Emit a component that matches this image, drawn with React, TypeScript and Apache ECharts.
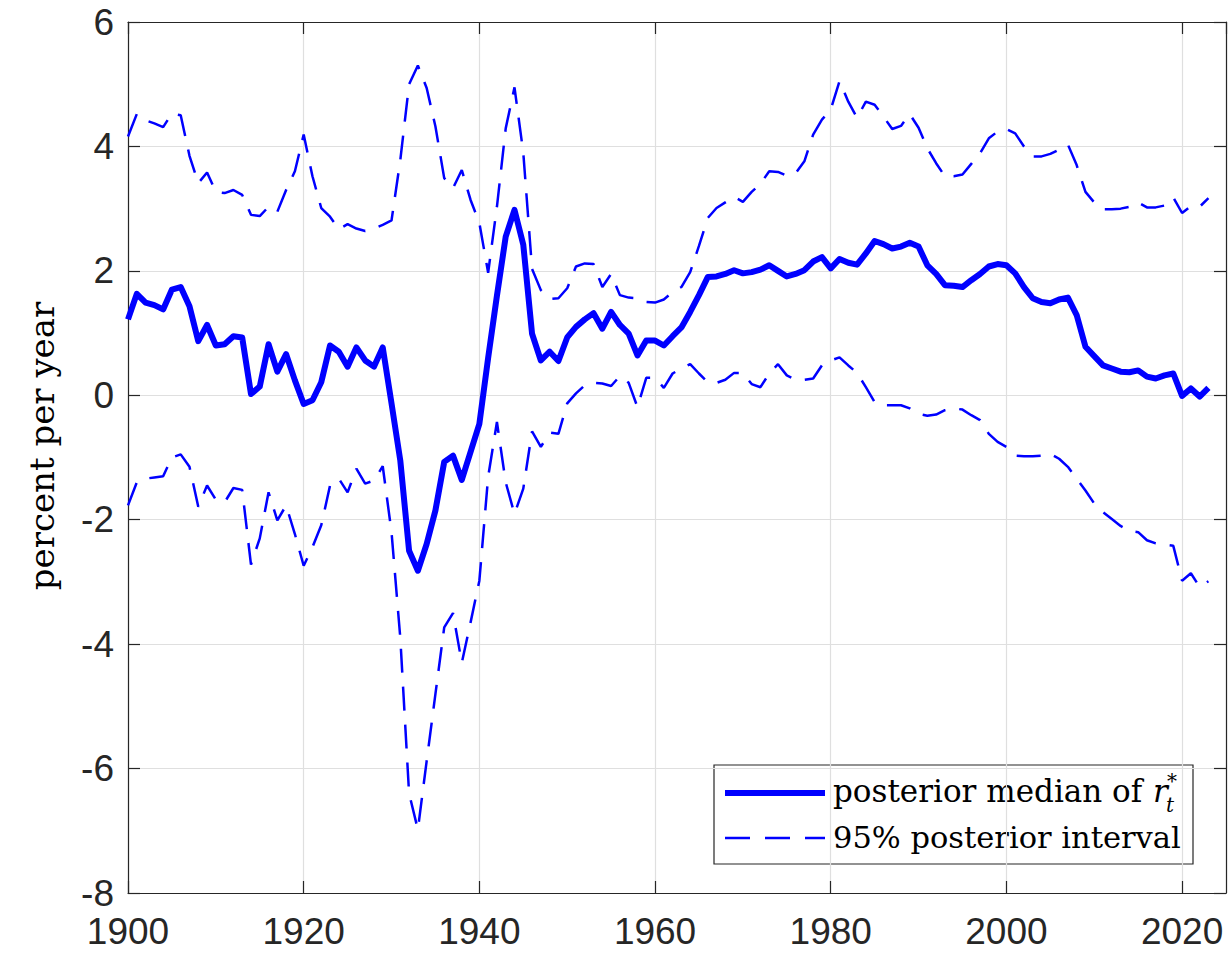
import React, { useEffect, useRef } from "react";
import * as echarts from "echarts";

const years: number[] = [];
for (let y = 1900; y <= 2023; y++) years.push(y);

const median: number[] = [
  1.22, 1.63, 1.49, 1.45, 1.38, 1.70, 1.74, 1.43, 0.87, 1.13,
  0.80, 0.82, 0.95, 0.93, 0.02, 0.14, 0.82, 0.38, 0.66, 0.24,
  -0.14, -0.08, 0.21, 0.80, 0.70, 0.46, 0.77, 0.56, 0.46, 0.77,
  -0.13, -1.05, -2.50, -2.82, -2.39, -1.85, -1.07, -0.97, -1.36, -0.91,
  -0.46, 0.60, 1.60, 2.55, 2.98, 2.42, 0.99, 0.56, 0.70, 0.55,
  0.93, 1.10, 1.22, 1.32, 1.07, 1.34, 1.13, 0.99, 0.64, 0.88,
  0.88, 0.80, 0.95, 1.09, 1.34, 1.61, 1.90, 1.91, 1.95, 2.01,
  1.96, 1.98, 2.02, 2.09, 2.00, 1.91, 1.95, 2.01, 2.15, 2.22,
  2.04, 2.19, 2.13, 2.10, 2.28, 2.48, 2.43, 2.36, 2.39, 2.45,
  2.39, 2.09, 1.95, 1.77, 1.76, 1.74, 1.85, 1.95, 2.07, 2.11,
  2.09, 1.96, 1.74, 1.56, 1.50, 1.48, 1.54, 1.57, 1.29, 0.78,
  0.63, 0.48, 0.43, 0.38, 0.37, 0.40, 0.30, 0.27, 0.32, 0.35,
  -0.01, 0.11, -0.02, 0.12,
];

const upper: number[] = [
  4.16, 4.52, 4.42, 4.37, 4.31, 4.53, 4.50, 3.85, 3.41, 3.58,
  3.27, 3.25, 3.30, 3.22, 2.90, 2.88, 3.03, 2.95, 3.30, 3.60,
  4.19, 3.52, 3.01, 2.87, 2.67, 2.75, 2.68, 2.64, 2.68, 2.74,
  2.81, 3.78, 5.00, 5.30, 4.94, 4.32, 3.49, 3.33, 3.62, 3.14,
  2.77, 1.97, 3.03, 4.29, 4.95, 3.90, 2.03, 1.69, 1.55, 1.56,
  1.72, 2.07, 2.12, 2.11, 1.74, 1.95, 1.61, 1.57, 1.56, 1.50,
  1.49, 1.54, 1.66, 1.74, 1.98, 2.40, 2.85, 3.01, 3.10, 3.19,
  3.11, 3.27, 3.40, 3.60, 3.59, 3.53, 3.57, 3.76, 4.19, 4.43,
  4.59, 5.05, 4.72, 4.46, 4.72, 4.67, 4.48, 4.28, 4.33, 4.52,
  4.30, 3.97, 3.73, 3.52, 3.52, 3.55, 3.72, 3.89, 4.13, 4.24,
  4.28, 4.21, 4.00, 3.84, 3.84, 3.88, 3.95, 4.03, 3.70, 3.27,
  3.10, 2.99, 2.99, 3.00, 3.03, 3.10, 3.02, 3.02, 3.05, 3.18,
  2.93, 3.04, 3.03, 3.17,
];

const lower: number[] = [
  -1.77, -1.40, -1.34, -1.32, -1.30, -1.00, -0.95, -1.15, -1.79, -1.45,
  -1.68, -1.72, -1.49, -1.52, -2.72, -2.30, -1.56, -2.01, -1.77, -2.23,
  -2.74, -2.44, -2.09, -1.45, -1.34, -1.56, -1.18, -1.42, -1.37, -1.14,
  -2.20, -3.90, -6.40, -6.98, -5.88, -4.80, -3.73, -3.50, -4.30, -3.65,
  -2.98, -1.31, -0.43, -1.40, -1.91, -1.50, -0.58, -0.83, -0.60, -0.62,
  -0.13, 0.03, 0.16, 0.20, 0.19, 0.15, 0.31, 0.20, -0.19, 0.28,
  0.28, 0.12, 0.35, 0.43, 0.50, 0.35, 0.21, 0.20, 0.25, 0.36,
  0.36, 0.18, 0.13, 0.35, 0.50, 0.32, 0.25, 0.25, 0.27, 0.48,
  0.56, 0.61, 0.48, 0.36, 0.13, -0.11, -0.16, -0.16, -0.16, -0.21,
  -0.30, -0.33, -0.31, -0.24, -0.21, -0.23, -0.32, -0.40, -0.62, -0.75,
  -0.83, -0.97, -0.98, -0.98, -0.97, -0.94, -1.02, -1.15, -1.34, -1.53,
  -1.74, -1.88, -1.99, -2.10, -2.18, -2.20, -2.33, -2.38, -2.40, -2.42,
  -2.98, -2.86, -3.08, -2.99,
];

const xTicks = [1900, 1920, 1940, 1960, 1980, 2000, 2020];
const yTicks = [-8, -6, -4, -2, 0, 2, 4, 6];

const AXIS = "#262626";
const GRID = "#dfdfdf";
const BLUE = "#0000ff";

export default function App() {
  const ref = useRef<HTMLDivElement>(null);
  useEffect(() => {
    if (!ref.current) return;
    const chart = echarts.init(ref.current, undefined, { renderer: "svg" });
    const pairs = (arr: number[]) => years.map((y, i) => [y, arr[i]]);
    const tickFont = { fontFamily: "Liberation Sans", fontSize: 37, color: AXIS };
    const lineSt = { color: AXIS, width: 1.2 };
    const baseX = {
      type: "value" as const,
      min: 1900,
      max: 2025,
      interval: 20,
    };
    const baseY = {
      type: "value" as const,
      min: -8,
      max: 6,
      interval: 2,
    };
    chart.setOption({
      animation: false,
      backgroundColor: "#ffffff",
      grid: { left: 128, top: 22, right: 4, bottom: 64, containLabel: false },
      xAxis: [
        {
          ...baseX,
          position: "bottom",
          axisLine: { show: true, onZero: false, lineStyle: lineSt },
          axisTick: { show: true, inside: true, length: 12, lineStyle: lineSt },
          axisLabel: {
            ...tickFont,
            margin: 20,
            showMaxLabel: false,
            formatter: (v: number) => (xTicks.includes(v) ? String(v) : ""),
          },
          splitLine: { show: true, lineStyle: { color: GRID, width: 1.2 } },
        },
        {
          ...baseX,
          position: "top",
          axisLine: { show: true, onZero: false, lineStyle: lineSt },
          axisTick: { show: true, inside: true, length: 12, lineStyle: lineSt },
          axisLabel: { show: false },
          splitLine: { show: false },
        },
      ],
      yAxis: [
        {
          ...baseY,
          position: "left",
          axisLine: { show: true, onZero: false, lineStyle: lineSt },
          axisTick: { show: true, inside: true, length: 12, lineStyle: lineSt },
          axisLabel: {
            ...tickFont,
            margin: 14,
            formatter: (v: number) => (yTicks.includes(v) ? String(v) : ""),
          },
          splitLine: { show: true, lineStyle: { color: GRID, width: 1.2 } },
        },
        {
          ...baseY,
          position: "right",
          axisLine: { show: true, onZero: false, lineStyle: lineSt },
          axisTick: { show: true, inside: true, length: 12, lineStyle: lineSt },
          axisLabel: { show: false },
          splitLine: { show: false },
        },
      ],
      series: [
        {
          name: "95% posterior interval",
          type: "line",
          data: pairs(upper),
          showSymbol: false,
          symbol: "none",
          lineStyle: { color: BLUE, width: 2.5, type: [24, 14] },
          z: 3,
        },
        {
          name: "95% posterior interval",
          type: "line",
          data: pairs(lower),
          showSymbol: false,
          symbol: "none",
          lineStyle: { color: BLUE, width: 2.5, type: [24, 14] },
          z: 3,
        },
        {
          name: "posterior median of r*t",
          type: "line",
          data: pairs(median),
          showSymbol: false,
          symbol: "none",
          lineStyle: { color: BLUE, width: 6, join: "round" },
          z: 4,
        },
      ],
      graphic: [
        {
          type: "text",
          x: 42,
          y: 446,
          rotation: Math.PI / 2,
          style: {
            text: "percent per year",
            fontFamily: "DejaVu Serif",
            fontSize: 34,
            fill: "#000",
            align: "center",
            verticalAlign: "middle",
          },
        },
        {
          type: "group",
          z: 100,
          children: [
            {
              type: "rect",
              shape: { x: 714, y: 765, width: 479, height: 99 },
              style: { fill: "#fff", stroke: AXIS, lineWidth: 1.2 },
            },
            {
              type: "line",
              shape: { x1: 725, y1: 793, x2: 825, y2: 793 },
              style: { stroke: BLUE, lineWidth: 6 },
            },
            {
              type: "line",
              shape: { x1: 725, y1: 838, x2: 825, y2: 838 },
              style: { stroke: BLUE, lineWidth: 2.5, lineDash: [25, 15] },
            },
            {
              type: "text",
              x: 833,
              y: 791,
              style: {
                text: "posterior median of",
                fontFamily: "DejaVu Serif",
                fontSize: 31,
                fill: "#000",
                align: "left",
                verticalAlign: "middle",
              },
            },
            {
              type: "text",
              x: 1153,
              y: 791,
              style: {
                text: "r",
                fontFamily: "DejaVu Serif",
                fontStyle: "italic",
                fontSize: 31,
                fill: "#000",
                align: "left",
                verticalAlign: "middle",
              },
            },
            {
              type: "text",
              x: 1167,
              y: 781,
              style: {
                text: "*",
                fontFamily: "DejaVu Serif",
                fontSize: 20,
                fill: "#000",
                align: "left",
                verticalAlign: "middle",
              },
            },
            {
              type: "text",
              x: 1166,
              y: 805,
              style: {
                text: "t",
                fontFamily: "DejaVu Serif",
                fontStyle: "italic",
                fontSize: 20,
                fill: "#000",
                align: "left",
                verticalAlign: "middle",
              },
            },
            {
              type: "text",
              x: 833,
              y: 837,
              style: {
                text: "95% posterior interval",
                fontFamily: "DejaVu Serif",
                fontSize: 30.5,
                fill: "#000",
                align: "left",
                verticalAlign: "middle",
              },
            },
          ],
        },
      ],
    });
    return () => chart.dispose();
  }, []);
  return (
    <div
      ref={ref}
      style={{ position: "absolute", left: 0, top: 0, width: 1230, height: 957, background: "#fff" }}
    />
  );
}
